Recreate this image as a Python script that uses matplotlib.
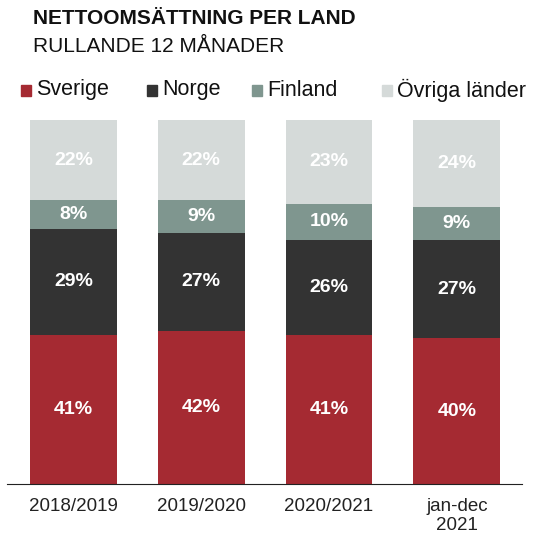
import matplotlib.pyplot as plt
from matplotlib.patches import Rectangle
import numpy as np

plt.rcParams['font.family'] = ['Liberation Sans', 'DejaVu Sans']

categories = ['2018/2019', '2019/2020', '2020/2021', 'jan-dec\n2021']
series = ['Sverige', 'Norge', 'Finland', 'Övriga länder']
sverige = [41, 42, 41, 40]
norge = [29, 27, 26, 27]
finland = [8, 9, 10, 9]
ovriga = [22, 22, 23, 24]
colors = ['#A52A32', '#333333', '#7F968F', '#D5DAD9']

W, H = 543, 535
fig = plt.figure(figsize=(W / 100, H / 100), dpi=100)
ax = fig.add_axes([7 / W, (H - 484) / H, (522 - 7) / W, (484 - 120) / H])

x = np.arange(len(categories))
bottom = np.zeros(len(categories))
for vals, col in zip([sverige, norge, finland, ovriga], colors):
    ax.bar(x, vals, width=0.68, bottom=bottom, color=col)
    for xi, b, v in zip(x, bottom, vals):
        ax.text(xi, b + v / 2, f'{v}%', ha='center', va='center',
                color='white', fontsize=14, fontweight='bold')
    bottom += vals

ax.set_xlim(-0.52, 3.51)
ax.set_ylim(0, 100)
for s in ['top', 'right', 'left']:
    ax.spines[s].set_visible(False)
ax.spines['bottom'].set_color('#222222')
ax.set_yticks([])
ax.set_xticks(x)
ax.set_xticklabels(categories, fontsize=13.5, color='#222222', linespacing=1.15)
ax.tick_params(axis='x', length=0, pad=10)

# title
fig.text(33 / W, 1 - 18 / H, 'NETTOOMSÄTTNING PER LAND', fontsize=15,
         fontweight='bold', va='center', ha='left', color='#111111')
fig.text(33 / W, 1 - 46 / H, 'RULLANDE 12 MÅNADER', fontsize=15,
         va='center', ha='left', color='#111111')

# legend
leg_x = [21, 147, 252, 382]
for lx, name, col in zip(leg_x, series, colors):
    fig.patches.append(Rectangle((lx / W, 1 - 96 / H), 10 / W, 11 / H,
                                 transform=fig.transFigure, color=col))
    fig.text((lx + 15) / W, 1 - 90 / H, name, fontsize=15.5, va='center',
             ha='left', color='#111111')

fig.savefig('out.png', dpi=100)
